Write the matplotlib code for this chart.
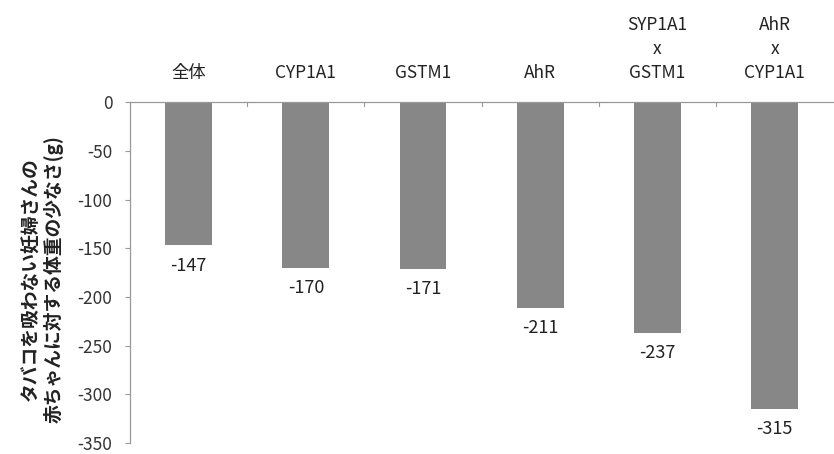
import matplotlib
matplotlib.use("Agg")
import matplotlib.pyplot as plt
import matplotlib.transforms as transforms

plt.rcParams['font.family'] = ['Noto Sans CJK JP', 'DejaVu Sans']

categories = ['全体', 'CYP1A1', 'GSTM1', 'AhR', 'SYP1A1\nx\nGSTM1', 'AhR\nx\nCYP1A1']
values = [-147, -170, -171, -211, -237, -315]
yticks = [0, -50, -100, -150, -200, -250, -300, -350]
ylabel = 'タバコを吸わない妊婦さんの\n赤ちゃんに対する体重の少なさ(g)'

fig = plt.figure(figsize=(8.34, 4.54), dpi=100)
ax = fig.add_axes([0.156, 0.024, 0.843, 0.751])

x = list(range(len(categories)))
ax.bar(x, values, width=0.4, color='#878787', zorder=2)

ax.set_xlim(-0.5, len(categories) - 0.5)
ax.set_ylim(-350, 0)
ax.set_yticks(yticks)
ax.set_yticklabels([str(v) for v in yticks], fontsize=12.5, color='#333333')
ax.tick_params(axis='y', length=3.6, width=0.8, color='#999999', pad=9)

# x axis sits at zero, with small ticks between categories
ax.spines['top'].set_color('#999999')
ax.spines['top'].set_linewidth(0.9)
ax.spines['right'].set_visible(False)
ax.spines['bottom'].set_visible(False)
ax.spines['left'].set_color('#999999')
ax.spines['left'].set_linewidth(0.9)
ax.set_xticks([])
for b in range(1, len(categories)):
    ax.plot([b - 0.5, b - 0.5], [0, -4], color='#999999', lw=0.8, clip_on=False)

# category names above the zero line
trans = transforms.blended_transform_factory(ax.transData, ax.transAxes)
for i, name in enumerate(categories):
    ax.text(i, 1.058, name, transform=trans, ha='center', va='bottom',
            fontsize=12.5, color='#222222', linespacing=1.45)

# value labels under each bar
for i, v in enumerate(values):
    ax.text(i, v - 21, str(v), ha='center', va='center', fontsize=13, color='#222222')

fig.text(0.051, 0.385, ylabel, rotation=90, ha='center', va='center',
         fontsize=13.5, fontweight='bold', color='#222222', linespacing=1.25)

fig.savefig('out.png', dpi=100)
